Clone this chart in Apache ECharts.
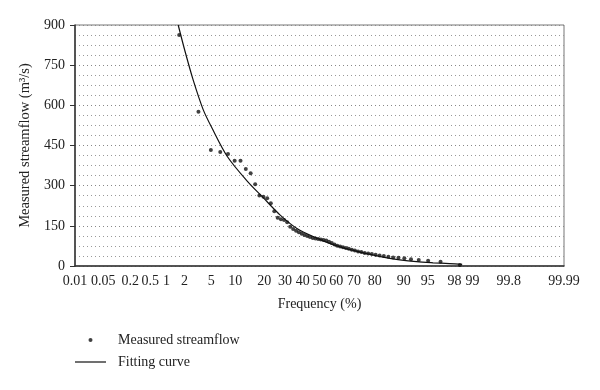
<!DOCTYPE html>
<html>
<head>
<meta charset="utf-8">
<script src="https://cdn.jsdelivr.net/npm/echarts@6/dist/echarts.min.js"></script>
<style>html,body{margin:0;padding:0;background:#fff}#c{width:600px;height:390px}</style>
</head>
<body>
<div id="c"></div>
<script>
// ---- data ----
const tickFreqs = [0.01, 0.05, 0.2, 0.5, 1, 2, 5, 10, 20, 30, 40, 50, 60, 70, 80, 90, 95, 98, 99, 99.8, 99.99];
const tickLabels = ['0.01', '0.05', '0.2', '0.5', '1', '2', '5', '10', '20', '30', '40', '50', '60', '70', '80', '90', '95', '98', '99', '99.8', '99.99'];

const measuredFreq = [1.64, 3.28, 4.92, 6.56, 8.20, 9.84, 11.48, 13.11, 14.75, 16.39,
  18.03, 19.67, 21.31, 22.95, 24.59, 26.23, 27.87, 29.51, 31.15, 32.79,
  34.43, 36.07, 37.70, 39.34, 40.98, 42.62, 44.26, 45.90, 47.54, 49.18,
  50.82, 52.46, 54.10, 55.74, 57.38, 59.02, 60.66, 62.30, 63.93, 65.57,
  67.21, 68.85, 70.49, 72.13, 73.77, 75.41, 77.05, 78.69, 80.33, 81.97,
  83.61, 85.25, 86.89, 88.52, 90.16, 91.80, 93.44, 95.08, 96.72, 98.36];
const measuredFlow = [863, 576, 433, 426, 418, 393, 393, 362, 346, 305,
  263, 259, 253, 234, 204, 180, 175, 172, 163, 147,
  138, 132, 126, 120, 116, 112, 108, 105, 103, 101,
  99, 97, 95, 91, 86, 80, 76, 73, 70, 67,
  64, 61, 58, 54, 52, 49, 47, 45, 42, 39,
  37, 35, 32, 31, 29, 25, 22, 20, 16, 4];

const curveFreq = [1.58, 2.05, 2.73, 3.83, 5.1, 8.0, 13.5, 19.5, 27.5, 36.6, 48.3, 58.1, 67.9, 76.3, 83.3, 88.9, 93.0, 95.8, 97.6, 98.5];
const curveFlow = [900, 800, 695, 585, 515, 410, 318, 256, 190, 140, 104, 80, 61, 46, 33, 23, 16, 12, 9, 6];

// ---- normal probability scale (inverse normal CDF, Acklam) ----
function probit(pct) {
  const p = pct / 100;
  const a = [-3.969683028665376e+01, 2.209460984245205e+02, -2.759285104469687e+02, 1.383577518672690e+02, -3.066479806614716e+01, 2.506628277459239e+00];
  const b = [-5.447609879822406e+01, 1.615858368580409e+02, -1.556989798598866e+02, 6.680131188771972e+01, -1.328068155288572e+01];
  const c = [-7.784894002430293e-03, -3.223964580411365e-01, -2.400758277161838e+00, -2.549671010017305e+00, 4.374664141464968e+00, 2.938163982698783e+00];
  const d = [7.784695709041462e-03, 3.224671290700398e-01, 2.445134137142996e+00, 3.754408661907416e+00];
  const pl = 0.02425, ph = 1 - pl;
  let q, r;
  if (p < pl) {
    q = Math.sqrt(-2 * Math.log(p));
    return (((((c[0]*q+c[1])*q+c[2])*q+c[3])*q+c[4])*q+c[5]) / ((((d[0]*q+d[1])*q+d[2])*q+d[3])*q+1);
  } else if (p <= ph) {
    q = p - 0.5; r = q * q;
    return (((((a[0]*r+a[1])*r+a[2])*r+a[3])*r+a[4])*r+a[5])*q / (((((b[0]*r+b[1])*r+b[2])*r+b[3])*r+b[4])*r+1);
  } else {
    q = Math.sqrt(-2 * Math.log(1 - p));
    return -(((((c[0]*q+c[1])*q+c[2])*q+c[3])*q+c[4])*q+c[5]) / ((((d[0]*q+d[1])*q+d[2])*q+d[3])*q+1);
  }
}

const tickZ = tickFreqs.map(probit);
const xMin = tickZ[0], xMax = tickZ[tickZ.length - 1];
const measured = measuredFreq.map((f, i) => [probit(f), measuredFlow[i]]);
const curve = curveFreq.map((f, i) => [probit(f), curveFlow[i]]);

const FONT = 'Liberation Serif';
const chart = echarts.init(document.getElementById('c'), null, { renderer: 'canvas' });
chart.setOption({
  animation: false,
  backgroundColor: '#fff',
  grid: { left: 75, right: 36, top: 25, bottom: 124, show: true, borderColor: '#777', borderWidth: 1 },
  xAxis: {
    type: 'value', min: xMin, max: xMax,
    name: 'Frequency (%)', nameLocation: 'middle', nameGap: 31,
    nameTextStyle: { fontFamily: FONT, fontSize: 14, color: '#222' },
    axisLine: { show: true, onZero: false, lineStyle: { color: '#333', width: 1.5 } },
    axisTick: { show: false },
    splitLine: { show: false },
    axisLabel: {
      customValues: tickZ,
      fontFamily: FONT, fontSize: 14, color: '#222', margin: 8,
      formatter: function (v) {
        let best = 0, bd = Infinity;
        tickZ.forEach((z, i) => { const dd = Math.abs(z - v); if (dd < bd) { bd = dd; best = i; } });
        return tickLabels[best];
      }
    }
  },
  yAxis: {
    type: 'value', min: 0, max: 900, interval: 150,
    name: 'Measured streamflow (m³/s)', nameLocation: 'middle', nameGap: 39,
    nameTextStyle: { fontFamily: FONT, fontSize: 14.5, color: '#222' },
    axisLine: { show: true, onZero: false, lineStyle: { color: '#333', width: 1.5 } },
    axisTick: { show: true, length: 5, lineStyle: { color: '#333' } },
    axisLabel: { fontFamily: FONT, fontSize: 14, color: '#222', margin: 10 },
    splitLine: { show: true, lineStyle: { color: '#888', width: 1, type: [1, 3] } },
    minorTick: { show: false, splitNumber: 4 },
    minorSplitLine: { show: true, lineStyle: { color: '#999', width: 1, type: [1, 3] } }
  },
  legend: {
    orient: 'vertical', left: 75, top: 333, padding: 0,
    itemWidth: 31, itemHeight: 14, itemGap: 8,
    textStyle: { fontFamily: FONT, fontSize: 14, color: '#222', padding: [0, 0, 0, 7] },
    data: [
      { name: 'Measured streamflow', icon: 'path://M0,0M31,14M13.5,7a2,2 0 1 0 4,0a2,2 0 1 0 -4,0Z' },
      { name: 'Fitting curve', icon: 'path://M0,0M31,14M0,6.4L31,6.4L31,7.6L0,7.6Z' }
    ]
  },
  series: [
    {
      name: 'Measured streamflow', type: 'scatter', data: measured,
      symbol: 'circle', symbolSize: 4, itemStyle: { color: '#111' }, z: 3
    },
    {
      name: 'Fitting curve', type: 'line', data: curve, smooth: 0.3,
      symbol: 'none', lineStyle: { color: '#111', width: 1.2 }, itemStyle: { color: '#111' }, z: 2
    }
  ]
});
</script>
</body>
</html>
